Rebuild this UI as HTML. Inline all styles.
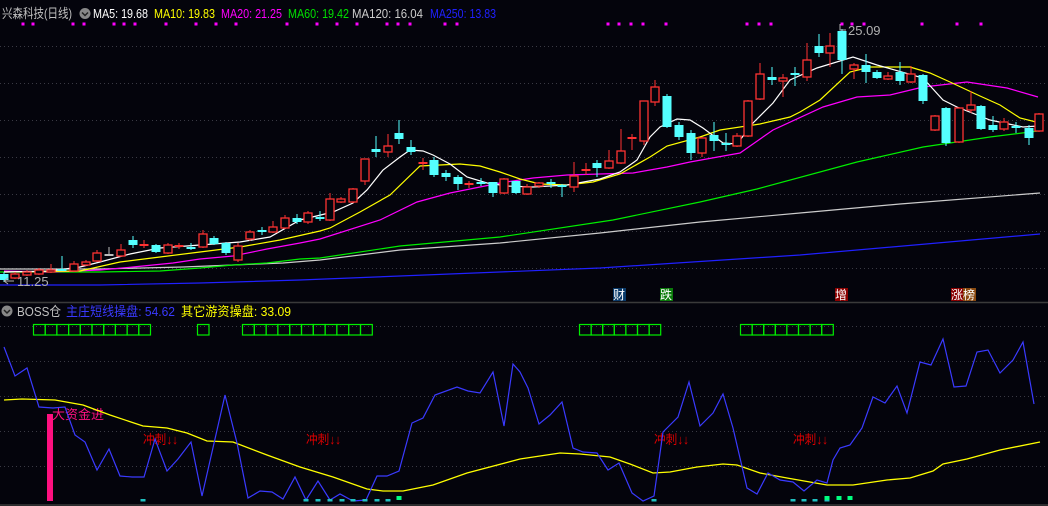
<!DOCTYPE html>
<html><head><meta charset="utf-8"><style>
html,body{margin:0;padding:0;background:#04040c;}
svg{display:block;}
text{font-family:"Liberation Sans","Noto Sans CJK SC",sans-serif;}
</style></head><body>
<svg id="s" width="1048" height="506" viewBox="0 0 1048 506" xmlns="http://www.w3.org/2000/svg">
<rect width="1048" height="506" fill="#04040c"/>
<g stroke="#3a3a44" stroke-dasharray="1,3" stroke-width="1">
<line x1="0" y1="46.5" x2="1048" y2="46.5"/><line x1="0" y1="83.5" x2="1048" y2="83.5"/>
<line x1="0" y1="120.5" x2="1048" y2="120.5"/><line x1="0" y1="157.5" x2="1048" y2="157.5"/>
<line x1="0" y1="194.5" x2="1048" y2="194.5"/><line x1="0" y1="231.5" x2="1048" y2="231.5"/>
<line x1="0" y1="268.5" x2="1048" y2="268.5"/>
<line x1="0" y1="326.5" x2="1048" y2="326.5"/><line x1="0" y1="361.5" x2="1048" y2="361.5"/>
<line x1="0" y1="396.5" x2="1048" y2="396.5"/><line x1="0" y1="431.5" x2="1048" y2="431.5"/>
<line x1="0" y1="466.5" x2="1048" y2="466.5"/>
</g>
<line x1="0" y1="302.5" x2="1048" y2="302.5" stroke="#3a3a3a" stroke-width="1.5"/>
<line x1="0" y1="505" x2="1048" y2="505" stroke="#3a3a3a" stroke-width="1.5"/>
<!-- header -->
<g font-size="13" lengthAdjust="spacingAndGlyphs">
<text x="2" y="18" fill="#c0c0c0" textLength="70" lengthAdjust="spacingAndGlyphs">兴森科技(日线)</text>
<text x="93" y="18" fill="#ffffff" textLength="55" lengthAdjust="spacingAndGlyphs">MA5: 19.68</text>
<text x="154" y="18" fill="#ffff00" textLength="61" lengthAdjust="spacingAndGlyphs">MA10: 19.83</text>
<text x="221" y="18" fill="#ff00ff" textLength="61" lengthAdjust="spacingAndGlyphs">MA20: 21.25</text>
<text x="288" y="18" fill="#00e000" textLength="61" lengthAdjust="spacingAndGlyphs">MA60: 19.42</text>
<text x="352" y="18" fill="#cccccc" textLength="71" lengthAdjust="spacingAndGlyphs">MA120: 16.04</text>
<text x="430" y="18" fill="#2020ff" textLength="66" lengthAdjust="spacingAndGlyphs">MA250: 13.83</text>
</g>
<circle cx="85" cy="13.5" r="5.5" fill="#888"/><path d="M82 12.5 L85 15.5 L88 12.5" stroke="#222" stroke-width="1.5" fill="none"/>
<g id="dots" fill="#ff00ff"></g>
<g id="ma"></g>
<g id="candles"></g>
<text x="848" y="35" font-size="13" fill="#b0b0b0">25.09</text>
<path d="M840 24 L840 30 L846 30" stroke="#b0b0b0" fill="none"/>
<text x="17" y="286" font-size="13" fill="#b0b0b0">11.25</text>
<path d="M4 281 L14 281 M4 281 L8 278 M4 281 L8 284" stroke="#b0b0b0" fill="none"/>
<!-- event labels -->
<rect x="613" y="288" width="13" height="13" fill="#0a3a6a"/><text x="613" y="299" font-size="12" fill="#fff">财</text>
<rect x="660" y="288" width="13" height="13" fill="#0a7a0a"/><text x="660" y="299" font-size="12" fill="#fff">跌</text>
<rect x="835" y="288" width="13" height="13" fill="#8a0000"/><text x="835" y="299" font-size="12" fill="#fff">增</text>
<rect x="951" y="288" width="12" height="13" fill="#8a0000"/><text x="951" y="299" font-size="12" fill="#fff">涨</text>
<rect x="963" y="288" width="13" height="13" fill="#8a4a10"/><text x="963" y="299" font-size="12" fill="#fff">榜</text>
<!-- bottom header -->
<circle cx="7" cy="311" r="5.5" fill="#888"/><path d="M4 310 L7 313 L10 310" stroke="#222" stroke-width="1.5" fill="none"/>
<text x="17" y="316" font-size="13" fill="#c0c0c0" textLength="44" lengthAdjust="spacingAndGlyphs">BOSS仓</text>
<text x="66" y="316" font-size="13" fill="#3a3aff" textLength="109" lengthAdjust="spacingAndGlyphs">主庄短线操盘: 54.62</text>
<text x="181" y="316" font-size="13" fill="#ffff00" textLength="110" lengthAdjust="spacingAndGlyphs">其它游资操盘: 33.09</text>
<g id="boxes" fill="none" stroke="#00ee00" stroke-width="1.2"></g>
<rect x="47" y="414" width="6" height="87" fill="#ff1080"/>
<text x="52" y="419" font-size="13" fill="#ff1080">大资金进</text>
<g font-size="13" fill="#dd0000">
<text x="143" y="444" textLength="35" lengthAdjust="spacingAndGlyphs">冲刺↓↓</text><text x="306" y="444" textLength="35" lengthAdjust="spacingAndGlyphs">冲刺↓↓</text>
<text x="654" y="444" textLength="35" lengthAdjust="spacingAndGlyphs">冲刺↓↓</text><text x="793" y="444" textLength="35" lengthAdjust="spacingAndGlyphs">冲刺↓↓</text>
</g>
<g id="low"></g>
</svg>
<script>
var NS="http://www.w3.org/2000/svg";
function el(p,t,a){var e=document.createElementNS(NS,t);for(var k in a)e.setAttribute(k,a[k]);document.getElementById(p).appendChild(e);return e;}
[23,33,73,84,114,124,135,166,196,216,236,287,317,337,357,387,398,410,445,457,608,619,631,643,666,747,759,771,842,852,864,922,957,981].forEach(function(x){el('dots','rect',{x:x-1.5,y:22.5,width:3,height:3});});
function pl(g,pts,c,w){el(g,'polyline',{points:pts.map(function(p){return p.join(',')}).join(' '),fill:'none',stroke:c,'stroke-width':w||1.2});}
pl('ma',[[0,285],[100,285],[200,283],[300,280],[400,276],[600,268],[800,255],[1040,234]],'#2020ff');
pl('ma',[[0,269],[100,269],[183,267],[233,265],[283,263],[320,260],[400,250],[500,243],[600,233],[700,222],[800,213],[900,204],[1040,193]],'#cccccc');
pl('ma',[[0,272],[100,272],[160,271],[200,268],[233,265],[267,263],[300,259],[320,258],[400,246],[500,237],[613,220],[700,202],[757,189],[857,162],[923,147],[990,137],[1038,131]],'#00ee00');
pl('ma',[[4,271],[50,272],[100,270],[133,267],[173,263],[200,259],[233,256],[267,249],[300,243],[320,239],[380,220],[417,202],[450,193],[500,183],[533,178],[567,175],[600,174],[633,173],[667,167],[690,162],[740,153],[773,130],[823,107],[857,97],[890,95],[923,87],[967,82],[1007,88],[1038,97]],'#ff00ff');
pl('ma',[[4,272],[80,271],[120,262],[160,257],[200,252],[240,247],[280,240],[320,231],[330,228],[360,212],[390,195],[420,166],[460,164],[480,166],[500,172],[520,179],[540,184],[567,185],[593,182],[620,174],[650,157],[667,146],[700,137],[720,130],[760,124],[790,117],[800,112],[820,100],[850,72],[870,67],[910,67],[930,73],[950,82],[980,96],[1000,105],[1020,118],[1040,123]],'#ffff00');
pl('ma',[[4,272],[50,271],[80,267],[100,262],[130,254],[160,248],[200,245],[240,242],[270,237],[300,220],[333,212],[353,203],[367,190],[383,170],[400,157],[410,150],[423,151],[433,155],[450,164],[467,177],[487,183],[507,186],[533,187],[567,185],[600,179],[620,172],[637,160],[650,137],[660,127],[677,119],[690,120],[703,128],[723,143],[737,144],[753,123],[773,103],[790,80],[817,68],[853,57],[877,65],[923,78],[943,100],[957,107],[990,120],[1023,127],[1038,126]],'#ffffff');
var C=[[4,274,280,272,282,'c'],[15,274,278,272,279,'r'],[27,272,275,270,276,'r'],[39,270,274,268,275,'r'],[51,270,272,264,273,'r'],[62,269,270,256,271,'c'],[74,264,271,261,272,'r'],[86,262,265,260,266,'r'],[97,253,261,250,262,'r'],[109,254,255,247,255,'g'],[121,250,256,244,257,'r'],[133,240,245,236,248,'c'],[144,244,246,240,248,'rx'],[156,245,252,244,253,'c'],[168,245,253,243,254,'r'],[179,245,247,243,249,'rx'],[191,247,249,243,250,'c'],[203,234,247,230,248,'r'],[214,238,244,236,245,'c'],[226,243,253,242,255,'c'],[238,246,260,243,262,'r'],[250,232,239,230,241,'r'],[262,230,232,227,235,'c'],[273,227,232,221,233,'r'],[285,218,228,215,229,'r'],[297,218,222,214,224,'c'],[308,213,222,211,224,'r'],[320,217,219,211,221,'c'],
[330,199,220,193,221,'r'],[341,199,202,197,203,'r'],[353,189,202,188,203,'r'],[365,159,181,159,185,'r'],[376,149,152,136,157,'c'],[388,146,152,134,157,'r'],[399,133,139,120,144,'c'],[411,147,152,140,155,'c'],[423,162,164,158,170,'rx'],[434,160,175,157,177,'c'],[446,173,177,170,181,'c'],[458,177,184,175,190,'c'],[469,183,185,181,188,'rx'],[481,182,183,178,186,'c'],[493,182,193,182,197,'c'],[504,179,193,178,194,'r'],[516,181,193,181,194,'c'],[527,187,194,184,195,'r'],[539,183,186,182,188,'r'],[551,182,184,179,188,'c'],[562,185,187,184,197,'c'],[574,176,187,162,192,'r'],[586,169,171,163,175,'rx'],[597,163,168,160,177,'c'],[609,161,168,150,169,'r'],[621,151,163,129,164,'r'],[632,137,139,134,150,'rx'],[644,101,141,101,145,'r'],[655,87,102,80,106,'r'],[667,96,127,94,128,'c'],[679,125,137,122,140,'c'],
[691,133,153,130,160,'c'],[702,138,153,137,157,'r'],[714,135,141,122,151,'c'],[726,143,145,133,151,'c'],[737,136,146,133,147,'r'],[748,101,136,100,137,'r'],[760,74,99,63,100,'r'],[772,77,80,67,85,'c'],[783,78,81,74,97,'r'],[795,73,75,67,86,'c'],[807,60,77,43,81,'r'],[819,46,53,34,57,'c'],[830,46,53,33,67,'r'],[842,31,60,29,74,'c'],[854,65,69,63,79,'r'],[866,65,72,54,83,'c'],[877,72,78,70,79,'c'],[888,76,79,72,80,'r'],[900,72,81,62,85,'c'],[911,74,82,66,83,'r'],[923,75,101,74,104,'c'],[935,116,130,115,131,'r'],[946,108,143,107,146,'c'],[959,108,142,107,143,'r'],[971,105,110,91,113,'r'],[981,106,129,105,130,'c'],[993,125,130,116,132,'c'],[1004,122,129,118,131,'r'],[1016,126,128,122,133,'c'],[1029,128,138,125,145,'c'],[1039,114,131,113,132,'r']];
C.forEach(function(c){var x=c[0],t=c[5];var col=t=='c'?'#54ffff':(t=='g'?'#bbbbbb':'#ff3232');
if(t=='r'){el('candles','line',{x1:x,y1:c[3],x2:x,y2:c[1],stroke:col});el('candles','line',{x1:x,y1:c[2],x2:x,y2:c[4],stroke:col});
el('candles','rect',{x:x-4,y:c[1],width:8,height:Math.max(1,c[2]-c[1]),fill:'#04040c',stroke:col,'stroke-width':1.3});}
else{el('candles','line',{x1:x,y1:c[3],x2:x,y2:c[4],stroke:col});el('candles','rect',{x:x-4.5,y:c[1],width:9,height:Math.max(2,c[2]-c[1]),fill:col});}});
function boxes(x0,n,w){for(var i=0;i<n;i++)el('boxes','rect',{x:x0+i*w,y:324.5,width:w,height:10.5});}
boxes(33.5,10,11.7);boxes(197.5,1,11.5);boxes(242.5,11,11.8);boxes(579.5,7,11.6);boxes(740.5,8,11.6);
pl('low',[[4,400],[22,399],[55,400],[83,405],[110,415],[143,426],[167,428],[187,433],[207,441],[233,442],[267,455],[300,467],[333,477],[367,489],[383,491],[403,491],[433,485],[467,473],[520,459],[560,453],[580,454],[610,457],[630,464],[653,473],[670,472],[697,467],[723,464],[737,465],[760,473],[787,478],[827,485],[853,485],[887,480],[910,478],[933,471],[943,464],[967,459],[1000,450],[1040,442]],'#ffff00',1.3);
pl('low',[[4,347],[15,376],[27,368],[39,407],[53,408],[65,407],[75,435],[85,442],[97,470],[109,449],[120,476],[132,477],[144,477],[155,439],[167,471],[178,459],[191,442],[202,496],[225,395],[237,443],[248,498],[260,491],[272,492],[283,499],[295,477],[306,500],[318,481],[330,500],[340,494],[353,501],[366,500],[377,476],[387,476],[399,471],[412,423],[423,418],[435,395],[457,387],[468,391],[480,393],[493,372],[504,426],[513,364],[520,372],[528,388],[539,424],[550,415],[562,402],[573,448],[583,452],[597,453],[608,470],[619,463],[632,493],[643,501],[654,496],[663,432],[678,417],[689,382],[700,426],[713,413],[723,394],[733,428],[747,488],[757,494],[768,473],[780,480],[793,482],[804,491],[817,480],[827,483],[833,460],[840,448],[850,445],[862,428],[873,397],[885,403],[897,386],[907,413],[920,362],[931,365],[943,339],[954,387],[966,386],[977,352],[988,350],[1000,373],[1013,360],[1023,342],[1034,404]],'#3a3aff',1.2);
[143,306,318,330,342,353,365,377,388,654,793,804,815,827].forEach(function(x){el('low','rect',{x:x-2.5,y:499,width:5,height:2.5,fill:'#20c0c0'});});
[399,827,839,850].forEach(function(x){el('low','rect',{x:x-2.5,y:496,width:5,height:4,fill:'#00ff80'});});
</script>
</body></html>
